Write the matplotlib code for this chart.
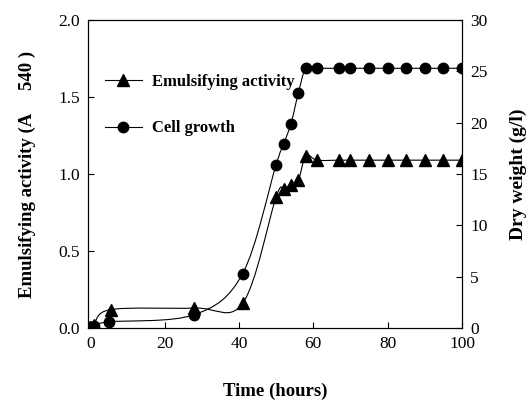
import numpy as np
import matplotlib
matplotlib.use("Agg")
import matplotlib.pyplot as plt
from matplotlib.path import Path
from matplotlib.patches import PathPatch
from matplotlib.lines import Line2D

# Data
time_ea = [0, 1, 5.5, 28, 41, 50, 52, 54, 56, 58, 61, 67, 70, 75, 80, 85, 90, 95, 100]
emulsifying = [0.01, 0.02, 0.12, 0.13, 0.16, 0.85, 0.90, 0.93, 0.96, 1.12, 1.09,
               1.09, 1.09, 1.09, 1.09, 1.09, 1.09, 1.09, 1.09]
time_cg = [0, 1, 5, 28, 41, 50, 52, 54, 56, 58, 61, 67, 70, 75, 80, 85, 90, 95, 100]
cell_growth = [0.1, 0.2, 0.6, 1.3, 5.3, 15.9, 17.9, 19.9, 22.9, 25.3, 25.3,
               25.3, 25.3, 25.3, 25.3, 25.3, 25.3, 25.3, 25.3]
x_ticks = [0, 20, 40, 60, 80, 100]
left_ticks = [0.0, 0.5, 1.0, 1.5, 2.0]
right_ticks = [0, 5, 10, 15, 20, 25, 30]

serif = ["Liberation Serif", "DejaVu Serif"]
plt.rcParams["font.family"] = serif


def smooth_path(xs, ys):
    """Bezier path through the points (smoothed line, Catmull-Rom style)."""
    pts = np.column_stack([xs, ys]).astype(float)
    n = len(pts)
    verts = [pts[0]]
    codes = [Path.MOVETO]
    for i in range(n - 1):
        p0 = pts[i - 1] if i > 0 else pts[i]
        p1 = pts[i]
        p2 = pts[i + 1]
        p3 = pts[i + 2] if i + 2 < n else pts[i + 1]
        c1 = p1 + (p2 - p0) / 6.0
        c2 = p2 - (p3 - p1) / 6.0
        verts += [c1, c2, p2]
        codes += [Path.CURVE4] * 3
    return Path(verts, codes)


fig = plt.figure(figsize=(5.31, 4.05), dpi=100)
ax = fig.add_axes([0.1657, 0.190, 0.7043, 0.7606])
ax2 = ax.twinx()

ax.add_patch(PathPatch(smooth_path(time_ea, emulsifying), facecolor="none",
                       edgecolor="black", lw=0.8, zorder=2))
ax.plot(time_ea, emulsifying, linestyle="none", marker="^", ms=8,
        color="black", zorder=3)
ax2.add_patch(PathPatch(smooth_path(time_cg, cell_growth), facecolor="none",
                        edgecolor="black", lw=0.8, zorder=2))
ax2.plot(time_cg, cell_growth, linestyle="none", marker="o", ms=7.5,
         color="black", zorder=3)

ax.set_xlim(-0.6, 100)
ax.set_ylim(0, 2.0)
ax2.set_ylim(0, 30)
ax.set_xticks(x_ticks)
ax.set_yticks(left_ticks)
ax.set_yticklabels([f"{v:.1f}" for v in left_ticks])
ax2.set_yticks(right_ticks)

for a in (ax, ax2):
    for s in a.spines.values():
        s.set_linewidth(0.8)
    a.tick_params(direction="in", length=4, width=0.8, labelsize=12.5, pad=6)
    a.set_clip_on(False)

ax.set_xlabel("Time (hours)", fontsize=13.5, fontweight="bold", labelpad=22)
ax.set_ylabel("Emulsifying activity (A     540 )", fontsize=13.5,
              fontweight="bold", labelpad=16)
ax2.set_ylabel("Dry weight (g/l)", fontsize=14, fontweight="bold", labelpad=16)

handles = [Line2D([], [], color="black", lw=0.8, marker="^", ms=8),
           Line2D([], [], color="black", lw=0.8, marker="o", ms=7.5)]
leg = ax.legend(handles, ["Emulsifying activity", "Cell growth"],
                loc="upper left", bbox_to_anchor=(0.005, 0.875), frameon=False,
                handlelength=2.2, handletextpad=0.6, labelspacing=1.85,
                prop={"family": serif, "weight": "bold", "size": 12})

fig.savefig("out.png", dpi=100)
